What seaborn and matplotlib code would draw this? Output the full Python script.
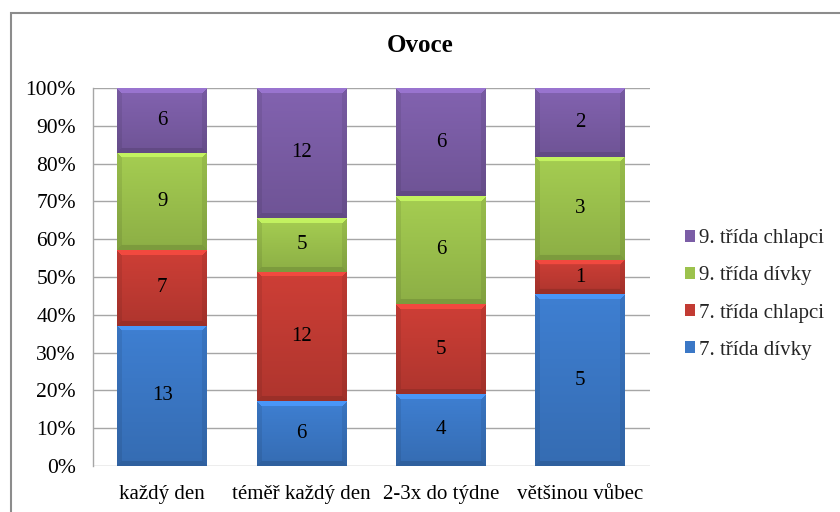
import numpy as np
import pandas as pd
import matplotlib
matplotlib.use("Agg")
import matplotlib.pyplot as plt
import seaborn as sns
from matplotlib.colors import to_rgb
from matplotlib.patches import Rectangle
from matplotlib.ticker import FuncFormatter

# --- data -------------------------------------------------------------
categories = ["každý den", "téměř každý den", "2-3x do týdne", "většinou vůbec"]
series_names = ["7. třída dívky", "7. třída chlapci", "9. třída dívky", "9. třída chlapci"]
divky_7 = [13, 6, 4, 5]
chlapci_7 = [7, 12, 5, 1]
divky_9 = [9, 5, 6, 3]
chlapci_9 = [6, 12, 6, 2]
series_colors = ["#3b78c6", "#c23b33", "#9cc24d", "#7b5da6"]
title = "Ovoce"

counts = np.array([divky_7, chlapci_7, divky_9, chlapci_9], dtype=float)
totals = counts.sum(axis=0)
shares = counts / totals * 100
bottoms = np.vstack([np.zeros(len(categories)), np.cumsum(shares, axis=0)[:-1]])

# --- style ------------------------------------------------------------
sns.set_theme(style="white")
plt.rcParams["font.family"] = ["Liberation Serif", "DejaVu Serif"]

W, H = 840, 512
fig = plt.figure(figsize=(W / 100, H / 100), dpi=100)
ax_left, ax_right, ax_top, ax_bottom = 92.5, 650, 88, 466
ax = fig.add_axes([ax_left / W, 1 - ax_bottom / H,
                   (ax_right - ax_left) / W, (ax_bottom - ax_top) / H])

bar_width = 0.645
segments = []
for i, name in enumerate(series_names):
    df = pd.DataFrame({"kategorie": categories, "podil": shares[i]})
    n_before = len(ax.patches)
    sns.barplot(data=df, x="kategorie", y="podil", order=categories,
                bottom=bottoms[i], color=series_colors[i], saturation=1,
                width=bar_width, linewidth=0, ax=ax, zorder=3)
    for j, p in enumerate(ax.patches[n_before:]):
        segments.append((p, series_colors[i], counts[i, j]))

ax.set_xlim(-0.5, len(categories) - 0.5)
ax.set_ylim(0, 100)

# bevelled shading of every segment
px_per_x = (ax_right - ax_left) / (len(categories))
px_per_y = (ax_bottom - ax_top) / 100.0
for p, col, val in segments:
    x0, y0 = p.get_x(), p.get_y()
    w, h = p.get_width(), p.get_height()
    nx = max(int(round(w * px_per_x)), 2)
    ny = max(int(round(h * px_per_y)), 2)
    yy, xx = np.mgrid[0:ny, 0:nx]
    # yy=0 is the top row
    d_top = yy + 0.5
    d_bot = ny - yy - 0.5
    d_l = xx + 0.5
    d_r = nx - xx - 0.5
    fac = 1.06 - 0.16 * (yy / max(ny - 1, 1))
    bev = 5.0
    dmin = np.minimum.reduce([d_top, d_bot, d_l, d_r])
    edge = dmin < bev
    top_m = edge & (d_top == dmin)
    bot_m = edge & (d_bot == dmin) & ~top_m
    side_m = edge & ~top_m & ~bot_m
    fac = np.where(top_m, 1.25, fac)
    fac = np.where(bot_m, 0.8, fac)
    fac = np.where(side_m, fac * 0.92, fac)
    base = np.array(to_rgb(col))
    img = np.clip(base[None, None, :] * fac[:, :, None], 0, 1)
    ax.imshow(img, extent=[x0, x0 + w, y0, y0 + h], origin="upper",
              aspect="auto", interpolation="bilinear", zorder=3.5)
    ax.text(x0 + w / 2, y0 + h / 2, f"{int(val)}", ha="center", va="center",
            fontsize=15, color="black", zorder=5)

ax.set_xlim(-0.5, len(categories) - 0.5)
ax.set_ylim(0, 100)
ax.set_aspect("auto")

# axes, grid and ticks
ax.set_yticks(np.arange(0, 101, 10))
ax.yaxis.set_major_formatter(FuncFormatter(lambda v, _: f"{int(v)}%"))
ax.grid(axis="y", color="#a6a6a6", linewidth=1.0, zorder=0)
ax.grid(axis="x", visible=False)
ax.set_axisbelow(True)
for side in ["top", "right", "bottom"]:
    ax.spines[side].set_visible(False)
ax.spines["left"].set_color("#a6a6a6")
ax.spines["left"].set_linewidth(1.0)
ax.tick_params(axis="y", length=0, pad=12, labelsize=15.5, colors="black")
ax.tick_params(axis="x", length=0, pad=14, labelsize=15, colors="black")
ax.set_xlabel("")
ax.set_ylabel("")

# title
fig.text(0.5, 1 - 45 / H, title, ha="center", va="center",
         fontsize=18, fontweight="bold", color="black")

# legend (top entry = last series)
handles = [Rectangle((0, 0), 1, 1, facecolor=c, edgecolor="none")
           for c in series_colors][::-1]
fig.legend(handles, series_names[::-1], loc="center left",
           bbox_to_anchor=(685 / W, 1 - 294.5 / H), frameon=False,
           fontsize=15, handlelength=0.5, handleheight=0.5,
           handletextpad=0.15, labelspacing=0.87, borderaxespad=0,
           borderpad=0)

# chart-area border
fig.patches.append(Rectangle((11 / W, -0.05), 1.2, 1 - 13 / H + 0.05,
                             transform=fig.transFigure, fill=False,
                             edgecolor="#8c8c8c", linewidth=1.5))

fig.savefig("out.png", dpi=100, facecolor="white")
